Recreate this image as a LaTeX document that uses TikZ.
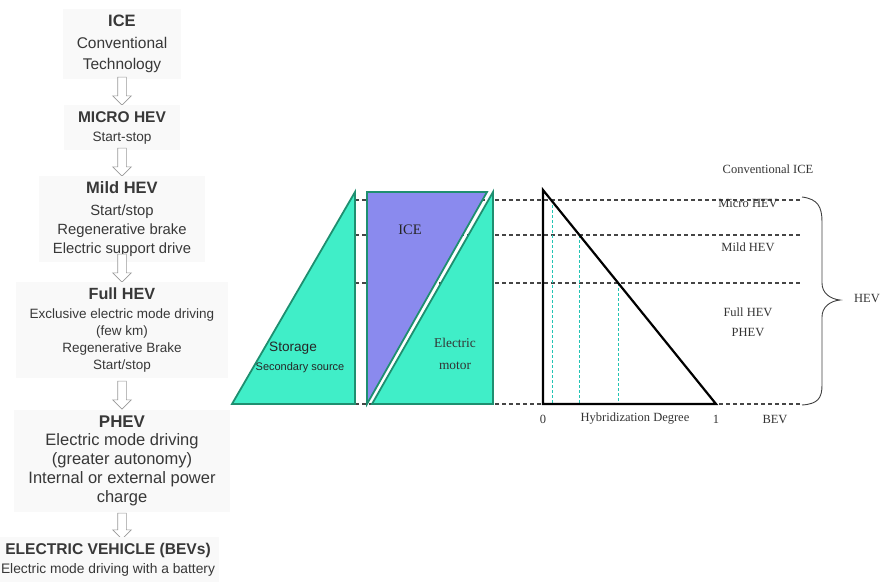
\documentclass[tikz,border=0pt]{standalone}
\usepackage{fontspec}
\setmainfont{Liberation Serif}
\newfontfamily\arialfont{Liberation Sans}
\usetikzlibrary{positioning, shapes.arrows}
\definecolor{storagefill}{HTML}{40EEC8}
\definecolor{icefill}{HTML}{8A8AEE}
\definecolor{partedge}{HTML}{1E8F70}
\definecolor{guidegray}{HTML}{454545}
\definecolor{tickcyan}{HTML}{22C4B4}
\definecolor{stagebg}{HTML}{F9F9F9}

\begin{document}
\begin{tikzpicture}[x=1pt, y=-1pt,
  every node/.style={inner sep=0pt},
  stage/.style={align=center, anchor=north, fill=stagebg, inner xsep=14pt, inner ysep=6pt, text=black!78},
  flow/.style={single arrow, draw=black!40, fill=white, rotate=-90, minimum height=28pt,
    inner sep=4pt, single arrow head extend=5pt, line width=0.6pt},
  lbl/.style={font=\fontsize{12.5}{20}\selectfont, text=black!80, align=center},
  guide/.style={draw=guidegray, line width=1.1pt, dash pattern=on 4pt off 3pt},
  tick/.style={draw=tickcyan, line width=0.8pt, dash pattern=on 3pt off 2pt},
  part/.style={draw=partedge, line width=1.8pt, line join=miter}
]
\useasboundingbox (0,0) rectangle (880,586);

% evolution column
\node[stage, font=\arialfont\fontsize{15.5}{21.5}\selectfont] (ice) at (122,9)
  {{\fontsize{16.5}{21.5}\bfseries\selectfont ICE}\\Conventional\\Technology};
\node[flow] (a1) at (122,89) {};
\node[stage, font=\arialfont\fontsize{13.6}{19}\selectfont] (micro) at (122,105)
  {{\fontsize{15.5}{19}\bfseries\selectfont MICRO HEV}\\Start-stop};
\node[flow] (a2) at (122,160) {};
\node[stage, font=\arialfont\fontsize{14.8}{19}\selectfont] (mild) at (122,175.5)
  {{\fontsize{16.5}{19}\bfseries\selectfont Mild HEV}\\[2.5pt]Start/stop\\Regenerative brake\\Electric support drive};
\node[flow] (a3) at (122,266) {};
\node[stage, font=\arialfont\fontsize{13.5}{17}\selectfont] (full) at (122,281.5)
  {{\fontsize{16.2}{17}\bfseries\selectfont Full HEV}\\[2pt]Exclusive electric mode driving\\(few km)\\Regenerative Brake\\Start/stop};
\node[flow] (a4) at (122,393) {};
\node[stage, font=\arialfont\fontsize{16.5}{19}\selectfont] (phev) at (122,410)
  {{\fontsize{16.9}{19}\bfseries\selectfont PHEV}\\[-1pt]Electric mode driving\\(greater autonomy)\\Internal or external power\\charge};
\node[flow, minimum height=26pt] (a5) at (122,524) {};
\node[stage, inner xsep=4pt, font=\arialfont\fontsize{13.8}{19}\selectfont] (bev) at (108,536.5)
  {{\fontsize{15.6}{19}\bfseries\selectfont ELECTRIC VEHICLE (BEVs)}\\Electric mode driving with a battery};

% level guides
\foreach \yy in {200,235,283,404}
  \draw[guide] (355,\yy) -- (802,\yy);
\foreach \xx/\yy in {552/200, 579/235, 618/283}
  \draw[tick] (\xx,\yy) -- (\xx,404);

% power sources
\draw[part, fill=storagefill] (232,404) -- (355,192) -- (355,404) -- cycle;
\draw[part, fill=icefill] (367,192) -- (487,192) -- (367,404) -- cycle;
\draw[part, fill=storagefill] (493,192) -- (493,404) -- (372,404) -- cycle;

% hybridization triangle
\draw[line width=2.2pt, line join=miter] (543,190) -- (543,404) -- (716,404) -- cycle;

% HEV brace
\node[lbl] (hev) at (867,298) {HEV};
\coordinate (btop) at (802,197);
\coordinate (bbot) at (802,405);
\draw[line width=0.9pt, black!75] (btop) .. controls (818,199) and (822,207) .. (822,222) -- (822,283)
  .. controls (822,293) and (830,299) .. (840,300)
  .. controls (830,301) and (822,307) .. (822,317) -- (822,385)
  .. controls (822,398) and (818,404) .. (bbot);

% labels
\node[font=\fontsize{14.5}{17}\selectfont, text=black!85] (icelbl) at (410,230) {ICE};
\node[font=\arialfont\fontsize{13.6}{16}\selectfont, text=black!85] (storage) at (293,348) {Storage};
\node[font=\arialfont\fontsize{11}{13}\selectfont, text=black!85] (secondary) at (300,368) {Secondary source};
\node[font=\fontsize{13.4}{22}\selectfont, text=black!80, align=center] (motor) at (455,354) {Electric\\motor};
\node[lbl] (conv) at (768,169) {Conventional ICE};
\node[lbl] (micro lbl) at (748,203) {Micro HEV};
\node[lbl] (mild lbl) at (748,247) {Mild HEV};
\node[lbl] (full lbl) at (748,322) {Full HEV\\PHEV};
\node[lbl] (zero) at (543,419) {0};
\node[lbl] (degree) at (635,419) {Hybridization Degree};
\node[lbl] (one) at (716,419) {1};
\node[lbl] (bev lbl) at (775,419) {BEV};
\end{tikzpicture}
\end{document}
